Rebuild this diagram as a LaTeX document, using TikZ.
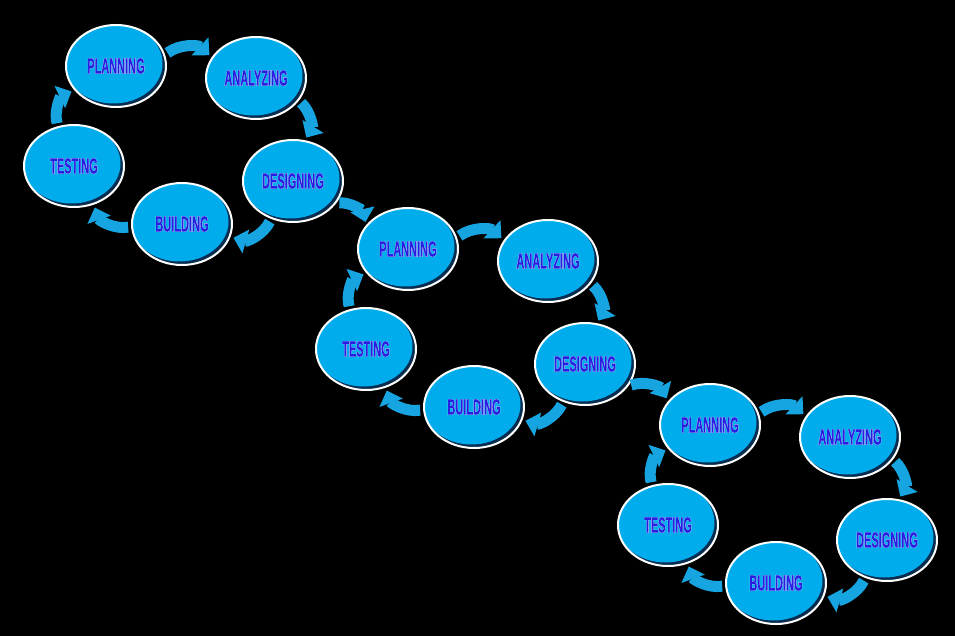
\documentclass[tikz,border=0pt]{standalone}
\usepackage{fontspec}
\usetikzlibrary{shapes.geometric,arrows.meta}
\newfontfamily\stepfont[FakeStretch=0.5,FakeBold=0.6]{Liberation Sans}
\newfontfamily\stepglow[FakeStretch=0.5,FakeBold=2.2]{Liberation Sans}
\definecolor{stepblue}{RGB}{0,172,236}
\definecolor{steprim}{RGB}{8,45,80}
\definecolor{stepink}{RGB}{40,30,225}
\definecolor{arrowblue}{RGB}{22,165,225}
\newcommand\steptext[1]{\makebox[0pt][l]{\color{white}\stepglow\bfseries #1}{\color{stepink}\stepfont\bfseries #1}}
\tikzset{
  stepnode/.style={ellipse, draw=white, line width=2pt, minimum width=100pt, minimum height=82pt, inner sep=0pt,
    font=\fontsize{22}{22}\selectfont,
    path picture={
      \fill[steprim] (path picture bounding box.south west) rectangle (path picture bounding box.north east);
      \fill[stepblue] ([shift={(-2.5pt,2.5pt)}]path picture bounding box.center) ellipse (49pt and 40pt);}},
  cyclearrow/.style={arrowblue, line width=11pt, -{Triangle[width=24pt,length=13pt]},
    shorten <=3pt, shorten >=3pt, bend left=40}
}

\begin{document}
\begin{tikzpicture}[x=1pt,y=1pt]
  \fill[black] (0,0) rectangle (955,-636);
  \useasboundingbox (0,0) rectangle (955,-636);
  % cycles
  \foreach \i/\dx/\dy in {1/0/0, 2/292/-183, 3/594/-359} {
    \begin{scope}[shift={(\dx,\dy)}]
      \node[stepnode] (p\i) at (116,-66)  {\steptext{PLANNING}};
      \node[stepnode] (a\i) at (256,-78)  {\steptext{ANALYZING}};
      \node[stepnode] (d\i) at (293,-181) {\steptext{DESIGNING}};
      \node[stepnode] (b\i) at (182,-224) {\steptext{BUILDING}};
      \node[stepnode] (t\i) at (74,-166)  {\steptext{TESTING}};
    \end{scope}
    % arrows
    \draw[cyclearrow] (p\i.13)  to (a\i.155);
    \draw[cyclearrow] (a\i.-28) to (d\i.74);
    \draw[cyclearrow] (d\i.240) to (b\i.-15);
    \draw[cyclearrow] (b\i.183) to (t\i.-63);
    \draw[cyclearrow] (t\i.112) to (p\i.210);
  }
  % links between cycles
  \draw[cyclearrow] (d1.-27) to (p2.150);
  \draw[cyclearrow] (d2.-27) to (p3.150);
\end{tikzpicture}
\end{document}
